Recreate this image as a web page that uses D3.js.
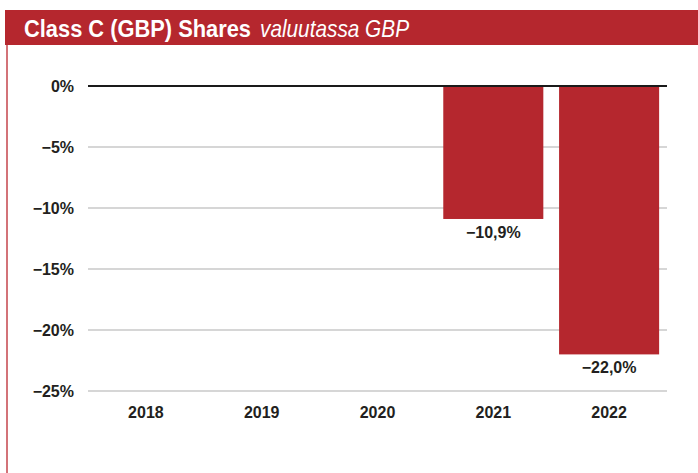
<!DOCTYPE html>
<html>
<head>
<meta charset="utf-8">
<script src="https://cdn.jsdelivr.net/npm/d3@7"></script>
<style>
  body { margin: 0; background: #fff; }
  svg { display: block; }
  text { font-family: "Liberation Sans", Arial, sans-serif; }
</style>
</head>
<body>
<div id="chart"></div>
<script>
const years = ["2018", "2019", "2020", "2021", "2022"];
const values = [null, null, null, -10.9, -22.0];
const valueLabels = ["", "", "", "−10,9%", "−22,0%"];
const yTicks = [0, -5, -10, -15, -20, -25];
const titleMain = "Class C (GBP) Shares";
const titleSub = "valuutassa GBP";

const width = 698;
const height = 473;
const red = "#b5272e";
const ink = "#231f20";

const svg = d3
  .select("#chart")
  .append("svg")
  .attr("width", width)
  .attr("height", height);

// header bar + left frame line
svg
  .append("rect")
  .attr("x", 5)
  .attr("y", 10)
  .attr("width", width - 5)
  .attr("height", 35)
  .attr("fill", red);

svg
  .append("line")
  .attr("x1", 7)
  .attr("x2", 7)
  .attr("y1", 45)
  .attr("y2", height)
  .attr("stroke", "#c4444b")
  .attr("stroke-width", 1.5);

svg
  .append("text")
  .attr("x", 24)
  .attr("y", 37)
  .attr("fill", "#fff")
  .style("font-family", "'Liberation Sans Narrow', 'Liberation Sans', Arial, sans-serif")
  .style("font-weight", "bold")
  .style("font-size", "24px")
  .attr("textLength", 227)
  .attr("lengthAdjust", "spacingAndGlyphs")
  .text(titleMain);

svg
  .append("text")
  .attr("x", 260)
  .attr("y", 37)
  .attr("fill", "#fff")
  .style("font-family", "'Liberation Sans Narrow', 'Liberation Sans', Arial, sans-serif")
  .style("font-style", "italic")
  .style("font-size", "24px")
  .attr("textLength", 149)
  .attr("lengthAdjust", "spacingAndGlyphs")
  .text(titleSub);

// scales
const x = d3
  .scaleBand()
  .domain(years)
  .range([88, 667])
  .paddingInner(0.136)
  .paddingOuter(0.068);

const y = d3.scaleLinear().domain([0, -25]).range([86, 391]);

// gridlines
svg
  .append("g")
  .selectAll("line")
  .data(yTicks.filter((d) => d !== 0))
  .enter()
  .append("line")
  .attr("x1", 88)
  .attr("x2", 667)
  .attr("y1", (d) => y(d))
  .attr("y2", (d) => y(d))
  .attr("stroke", "#c8c8c8")
  .attr("stroke-width", 1.5);

// y tick labels
svg
  .append("g")
  .selectAll("text")
  .data(yTicks)
  .enter()
  .append("text")
  .attr("x", 74)
  .attr("y", (d) => y(d) + 0.5)
  .attr("dy", "0.35em")
  .attr("text-anchor", "end")
  .attr("fill", ink)
  .style("font-weight", "bold")
  .style("font-size", "16px")
  .text((d) => (d === 0 ? "0%" : "−" + Math.abs(d) + "%"));

// bars
const barData = years
  .map((yr, i) => ({ year: yr, value: values[i], label: valueLabels[i] }))
  .filter((d) => d.value !== null);

svg
  .append("g")
  .selectAll("rect")
  .data(barData)
  .enter()
  .append("rect")
  .attr("x", (d) => x(d.year))
  .attr("width", x.bandwidth())
  .attr("y", y(0))
  .attr("height", (d) => y(d.value) - y(0))
  .attr("fill", red);

// zero line on top
svg
  .append("line")
  .attr("x1", 88)
  .attr("x2", 667)
  .attr("y1", y(0))
  .attr("y2", y(0))
  .attr("stroke", "#1a1a1a")
  .attr("stroke-width", 2);

// value labels
svg
  .append("g")
  .selectAll("text")
  .data(barData)
  .enter()
  .append("text")
  .attr("x", (d) => x(d.year) + x.bandwidth() / 2)
  .attr("y", (d) => y(d.value) + 13)
  .attr("dy", "0.35em")
  .attr("text-anchor", "middle")
  .attr("fill", ink)
  .style("font-weight", "bold")
  .style("font-size", "16px")
  .text((d) => d.label);

// year labels
svg
  .append("g")
  .selectAll("text")
  .data(years)
  .enter()
  .append("text")
  .attr("x", (d) => x(d) + x.bandwidth() / 2)
  .attr("y", 412.5)
  .attr("dy", "0.35em")
  .attr("text-anchor", "middle")
  .attr("fill", ink)
  .style("font-weight", "bold")
  .style("font-size", "16px")
  .text((d) => d);
</script>
</body>
</html>
